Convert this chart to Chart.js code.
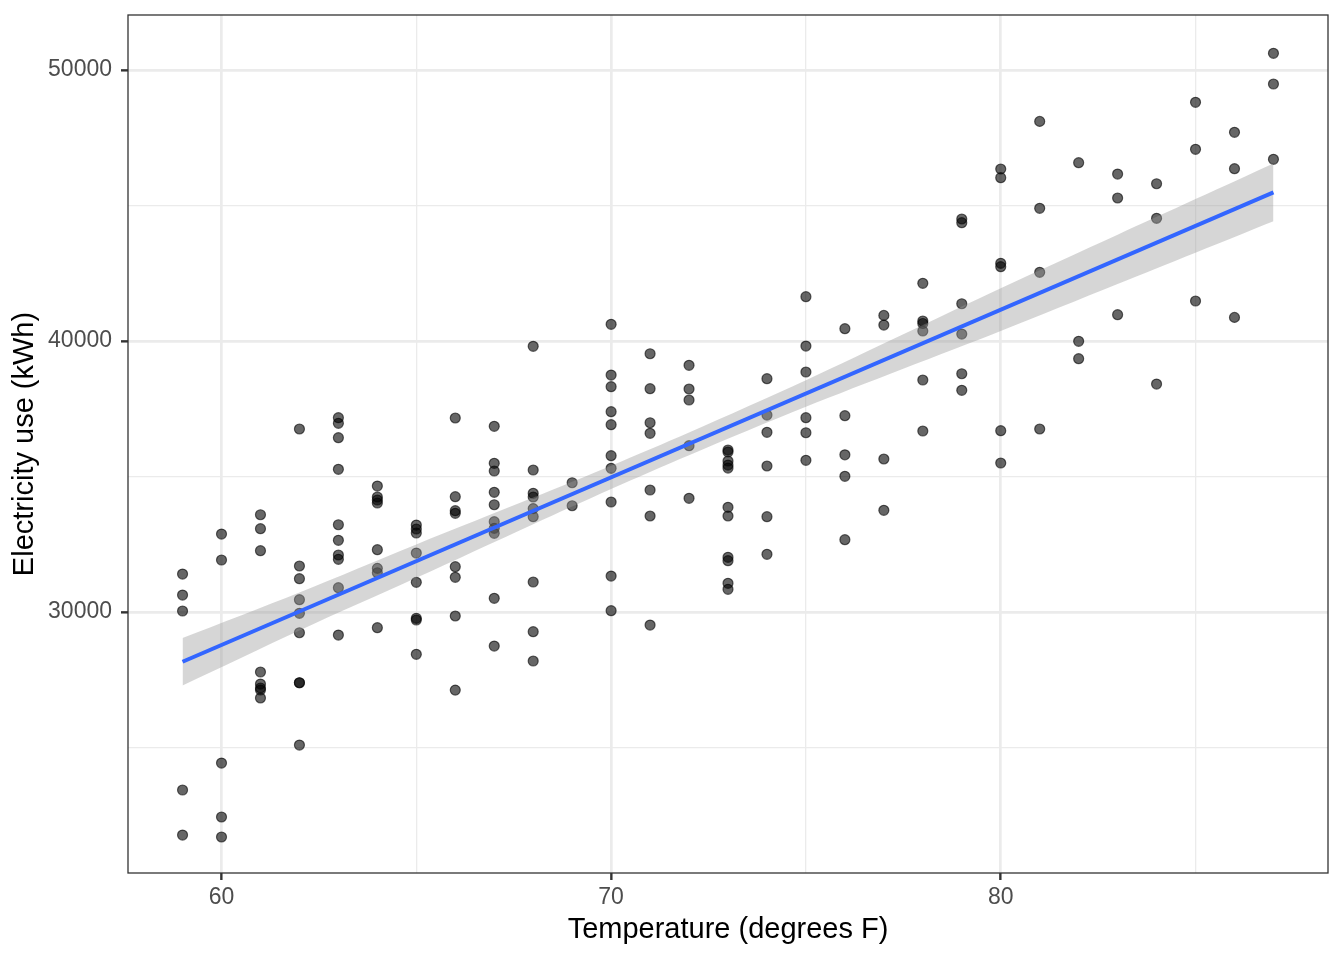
<!DOCTYPE html>
<html>
<head>
<meta charset="utf-8">
<script src="https://cdn.jsdelivr.net/npm/chart.js@4.4.1/dist/chart.umd.min.js"></script>
<style>
  html, body { margin: 0; padding: 0; background: #ffffff; }
  #wrap { width: 1344px; height: 960px; }
</style>
</head>
<body>
<div id="wrap"><canvas id="elecChart" width="1344" height="960"></canvas></div>
<script>
// Temperatura (F) e consumo (kWh), uma linha por temperatura
const tempF = [
  59, 59, 59, 59, 59,
  60, 60, 60, 60, 60,
  61, 61, 61, 61, 61, 61, 61, 61,
  62, 62, 62, 62, 62, 62, 62, 62, 62,
  63, 63, 63, 63, 63, 63, 63, 63, 63, 63,
  64, 64, 64, 64, 64, 64, 64, 64,
  65, 65, 65, 65, 65, 65, 65, 65,
  66, 66, 66, 66, 66, 66, 66, 66,
  67, 67, 67, 67, 67, 67, 67, 67, 67, 67,
  68, 68, 68, 68, 68, 68, 68, 68, 68,
  69, 69,
  70, 70, 70, 70, 70, 70, 70, 70, 70, 70,
  71, 71, 71, 71, 71, 71, 71,
  72, 72, 72, 72, 72,
  73, 73, 73, 73, 73, 73, 73, 73, 73, 73, 73,
  74, 74, 74, 74, 74, 74,
  75, 75, 75, 75, 75, 75,
  76, 76, 76, 76, 76,
  77, 77, 77, 77,
  78, 78, 78, 78, 78, 78,
  79, 79, 79, 79, 79, 79,
  80, 80, 80, 80, 80, 80,
  81, 81, 81, 81,
  82, 82, 82,
  83, 83, 83,
  84, 84, 84,
  85, 85, 85,
  86, 86, 86,
  87, 87, 87
];
const kwh = [
  31402, 30627, 30037, 23432, 21771,
  32878, 31919, 24428, 22436, 21698,
  33590, 33074, 32262, 27786, 27343, 27196, 27122, 26827,
  36753, 31698, 31229, 30454, 29952, 29236, 27391, 27391, 25092,
  37170, 36963, 36432, 35266, 33221, 32646, 32104, 31945, 30897, 29151,
  34649, 34244, 34133, 34022, 32299, 31612, 31450, 29421,
  33210, 33063, 32915, 32177, 31096, 29768, 29705, 28439,
  37159, 34255, 33738, 33642, 31672, 31281, 29853, 27119,
  36852, 35487, 35203, 34417, 33959, 33332, 33088, 32904, 30506, 28745,
  39804, 35240, 34380, 34244, 33816, 33517, 31107, 29273, 28192,
  34771, 33921,
  40616, 38745, 38314, 37391, 36912, 35768, 35303, 34059, 31328, 30048,
  39531, 38240, 36985, 36594, 34502, 33543, 29520,
  39103, 38229, 37823, 36137, 34196,
  35978, 35904, 35572, 35424, 35313, 33864, 33543, 32019, 31893, 31059, 30838,
  38609, 37269, 36631, 35388, 33517, 32129,
  41635, 39815, 38856, 37170, 36616, 35598,
  40454, 37244, 35801, 35007, 32668,
  40945, 40590, 35646, 33753,
  42129, 40738, 40646, 40369, 38561, 36679,
  44502, 44365, 41376, 40258, 38793, 38181,
  46347, 46026, 42867, 42742, 36690, 35498,
  48104, 44896, 42535, 36753,
  46579, 39989, 39347,
  46162, 45277, 40971,
  45804, 44528, 38413,
  48808, 47074, 41476,
  47701, 46358, 40871,
  50616, 49483, 46705
];

// Reta de regressão e faixa de confiança
const fitX = [59, 87];
const fitY = [28166, 45487];
const bandX = [59, 62, 65, 68, 70, 72, 75, 80, 83, 87];
const bandHi = [29041, 30722, 32493, 34223, 35401, 36628, 38554, 41944, 43923, 46550];
const bandLo = [27291, 29322, 31263, 33243, 34541, 35788, 37574, 40370, 42101, 44424];

// Ticks dos eixos: principais (com rótulo) e secundários (só grade)
const xMajor = [60, 70, 80];
const xGrid = [60, 65, 70, 75, 80, 85];
const yMajor = [30000, 40000, 50000];
const yGrid = [25000, 30000, 35000, 40000, 45000, 50000];

const toXY = (xs, ys) => xs.map((x, i) => ({ x: x, y: ys[i] }));

// Borda do painel (estilo theme_bw)
const panelBorder = {
  id: "panelBorder",
  afterDatasetsDraw(chart) {
    const a = chart.chartArea;
    const ctx = chart.ctx;
    ctx.save();
    ctx.strokeStyle = "#333333";
    ctx.lineWidth = 1.3;
    ctx.strokeRect(a.left, a.top, a.right - a.left, a.bottom - a.top);
    ctx.restore();
  },
};

const tickFont = { family: "'Liberation Sans', Arial, sans-serif", size: 23 };
const titleFont = { family: "'Liberation Sans', Arial, sans-serif", size: 29 };

const elecChart = new Chart(document.getElementById("elecChart"), {
  type: "scatter",
  data: {
    datasets: [
      {
        type: "line",
        label: "fit",
        data: toXY(fitX, fitY),
        borderColor: "#3366FF",
        borderWidth: 4,
        pointRadius: 0,
        fill: false,
        order: 0,
      },
      {
        type: "line",
        label: "upper",
        data: toXY(bandX, bandHi),
        borderWidth: 0,
        borderColor: "rgba(0,0,0,0)",
        pointRadius: 0,
        tension: 0.3,
        fill: "+1",
        backgroundColor: "rgba(153,153,153,0.4)",
        order: 1,
      },
      {
        type: "line",
        label: "lower",
        data: toXY(bandX, bandLo),
        borderWidth: 0,
        borderColor: "rgba(0,0,0,0)",
        pointRadius: 0,
        tension: 0.3,
        fill: false,
        order: 2,
      },
      {
        label: "pontos",
        data: toXY(tempF, kwh),
        pointRadius: 5,
        pointBorderWidth: 1.2,
        pointBackgroundColor: "rgba(0,0,0,0.6)",
        pointBorderColor: "rgba(0,0,0,0.6)",
        order: 3,
      },
    ],
  },
  options: {
    responsive: false,
    animation: false,
    devicePixelRatio: 1,
    layout: { padding: { left: 0, right: 16, top: 15, bottom: 0 } },
    plugins: {
      legend: { display: false },
      tooltip: { enabled: false },
    },
    scales: {
      x: {
        type: "linear",
        min: 57.6,
        max: 88.4,
        afterBuildTicks: (s) => {
          s.ticks = xGrid.map((v) => ({ value: v }));
        },
        afterFit: (s) => {
          s.height = 87;
          s.paddingLeft = 0;
          s.paddingRight = 0;
        },
        border: { display: false },
        grid: {
          color: "#ebebeb",
          lineWidth: (c) => (xMajor.includes(c.tick.value) ? 2.7 : 1.3),
          tickLength: 7,
          tickColor: (c) => (xMajor.includes(c.tick.value) ? "#333333" : "rgba(0,0,0,0)"),
          tickWidth: 2.4,
        },
        ticks: {
          autoSkip: false,
          maxRotation: 0,
          padding: 4,
          color: "#4d4d4d",
          font: tickFont,
          callback: (v) => (xMajor.includes(v) ? String(v) : ""),
        },
        title: {
          display: true,
          text: "Temperature (degrees F)",
          color: "#000000",
          font: titleFont,
          padding: { top: 0, bottom: 12.6 },
        },
      },
      y: {
        type: "linear",
        min: 20370,
        max: 52030,
        afterBuildTicks: (s) => {
          s.ticks = yGrid.map((v) => ({ value: v }));
        },
        afterFit: (s) => {
          s.width = 128;
          s.paddingTop = 0;
          s.paddingBottom = 0;
        },
        border: { display: false },
        grid: {
          color: "#ebebeb",
          lineWidth: (c) => (yMajor.includes(c.tick.value) ? 2.7 : 1.3),
          tickLength: 7,
          tickColor: (c) => (yMajor.includes(c.tick.value) ? "#333333" : "rgba(0,0,0,0)"),
          tickWidth: 2.4,
        },
        ticks: {
          autoSkip: false,
          padding: 9,
          color: "#4d4d4d",
          font: tickFont,
          callback: (v) => (yMajor.includes(v) ? String(v) : ""),
        },
        title: {
          display: true,
          text: "Electricity use (kWh)",
          color: "#000000",
          font: titleFont,
          padding: { top: 8, bottom: 0 },
        },
      },
    },
  },
  plugins: [panelBorder],
});
</script>
</body>
</html>
